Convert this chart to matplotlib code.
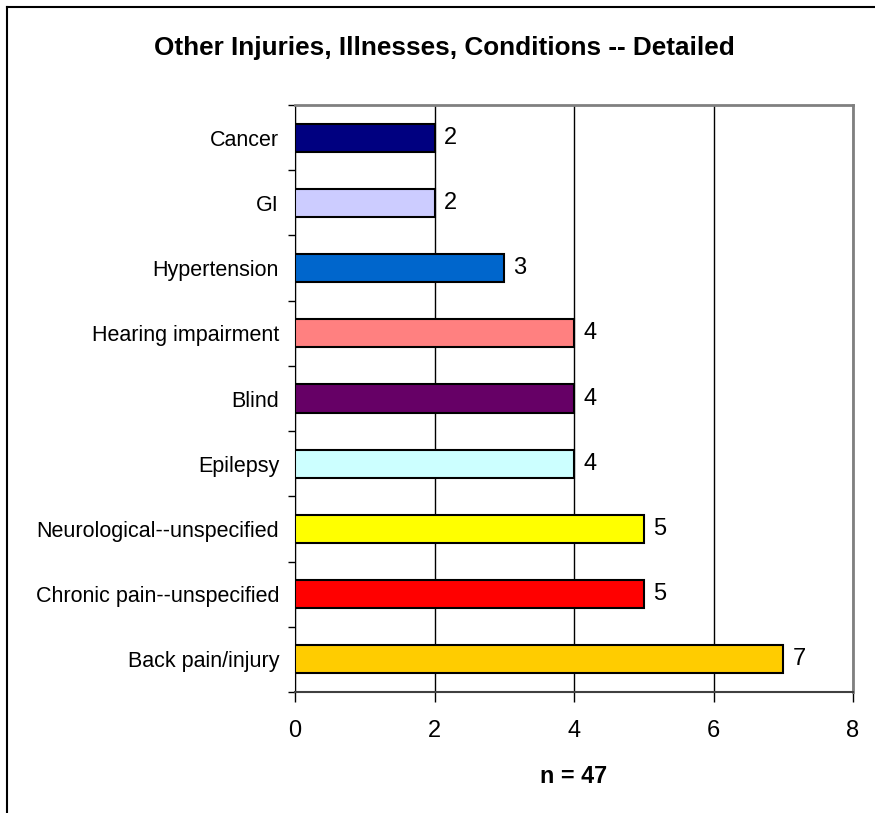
import numpy as np
import matplotlib
matplotlib.use("Agg")
import matplotlib.pyplot as plt
from matplotlib.lines import Line2D

# Données
categories = ["Back pain/injury", "Chronic pain--unspecified", "Neurological--unspecified",
              "Epilepsy", "Blind", "Hearing impairment", "Hypertension", "GI", "Cancer"]
values = [7, 5, 5, 4, 4, 4, 3, 2, 2]
colors = ["#FFCC00", "#FF0000", "#FFFF00", "#CCFFFF", "#660066",
          "#FF8080", "#0066CC", "#CCCCFF", "#000080"]
x_ticks = [0, 2, 4, 6, 8]

plt.rcParams['font.family'] = ['Liberation Sans', 'DejaVu Sans']

fig = plt.figure(figsize=(8.75, 8.13), dpi=100)
ax = fig.add_axes([295 / 875, 1 - 692 / 813, 558 / 875, 587 / 813])

y = np.arange(len(categories))
ax.barh(y, values, height=0.43, color=colors, edgecolor="black", linewidth=1.5, zorder=3)

for yi, v in zip(y, values):
    ax.text(v + 0.13, yi, str(v), va="center", ha="left", fontsize=17, zorder=4)

ax.set_xlim(0, 8)
ax.set_ylim(-0.5, len(categories) - 0.5)
ax.set_xticks(x_ticks)
ax.set_xticklabels([str(t) for t in x_ticks], fontsize=17)

# ticks des catégories aux limites
ax.set_yticks(y)
ax.set_yticklabels(categories, fontsize=15.5)
ax.tick_params(axis="y", which="major", length=0, pad=11.5)
ax.set_yticks(np.arange(-0.5, len(categories)), minor=True)
ax.tick_params(axis="y", which="minor", length=5, direction="out", width=1)
ax.tick_params(axis="x", length=7, direction="out", width=1, pad=13)

ax.grid(axis="x", color="black", linewidth=1, zorder=0)
ax.set_axisbelow(True)

for side in ["top", "right"]:
    ax.spines[side].set_color("#808080")
    ax.spines[side].set_linewidth(2)
ax.spines["left"].set_color("black")
ax.spines["bottom"].set_color("#404040")
ax.spines["bottom"].set_linewidth(1.5)

ax.set_xlabel("n = 47", fontsize=16.8, fontweight="bold", labelpad=17)
fig.text(444 / 875, 1 - 48 / 813, "Other Injuries, Illnesses, Conditions -- Detailed",
         ha="center", va="center", fontsize=18.8, fontweight="bold")

# cadre
fig.add_artist(Line2D([7 / 875, 7 / 875], [0, 1 - 7 / 813], color="black", linewidth=1.5,
                      transform=fig.transFigure))
fig.add_artist(Line2D([7 / 875, 1], [1 - 7 / 813, 1 - 7 / 813], color="black", linewidth=1.5,
                      transform=fig.transFigure))

fig.savefig("out.png", dpi=100)
